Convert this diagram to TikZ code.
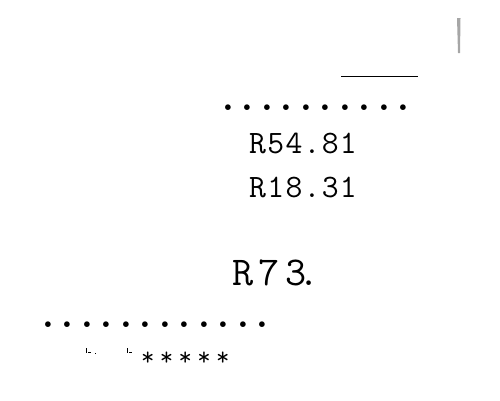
\documentclass[tikz,border=0pt]{standalone}
\usepackage{fontspec}
\newfontfamily\amountfont{Latin Modern Mono}[LetterSpace=4]
\newfontfamily\totalfont{Latin Modern Mono}[LetterSpace=13]
\newfontfamily\leaderfont{Latin Modern Mono}[LetterSpace=-12.5]
\newfontfamily\starfont{Latin Modern Mono}[LetterSpace=20.6]
\usepackage{tikz}
\usetikzlibrary{backgrounds,calc}
\tikzset{
  amount/.style={anchor=base west,inner sep=0pt,font=\amountfont\fontsize{32.7}{36}\selectfont},
  total/.style={anchor=base west,inner sep=0pt,font=\totalfont\fontsize{41}{45}\selectfont},
  leader/.style={anchor=base west,inner sep=0pt,font=\leaderfont\fontsize{50}{54}\selectfont},
  stars/.style={anchor=base west,inner sep=0pt,font=\starfont\fontsize{26}{28}\selectfont}
}
\begin{document}
\begin{tikzpicture}[x=1pt,y=-1pt]
\useasboundingbox (0,0) rectangle (500,400);
\fill[gray!70] (457,18) -- (460.5,18) -- (460,53) -- (458,53) -- cycle;
\draw[black, line width=1pt] (341,76) -- (418,76);
\node[leader] (dotsA) at (215,110) {..........};
\node[amount] (amountA) at (249,153) {R54.81};
\node[amount] (amountB) at (249,197) {R18.31};
\node[total] (amountTotal) at (232,285) {R73\kern-8pt.};
\node[leader] (dotsB) at (35,327) {............};
\node[stars] (starsA) at (141,365) {*****};
\draw[black, line width=1pt] (86,348) -- (86,353);
\draw[black, line width=1pt] (88,352) -- (91,352);
\draw[black, line width=1pt] (95,353) -- (96,353);
\draw[black, line width=1pt] (127,348) -- (127,353);
\draw[black, line width=1pt] (129,352) -- (132,352);
\end{tikzpicture}
\end{document}
